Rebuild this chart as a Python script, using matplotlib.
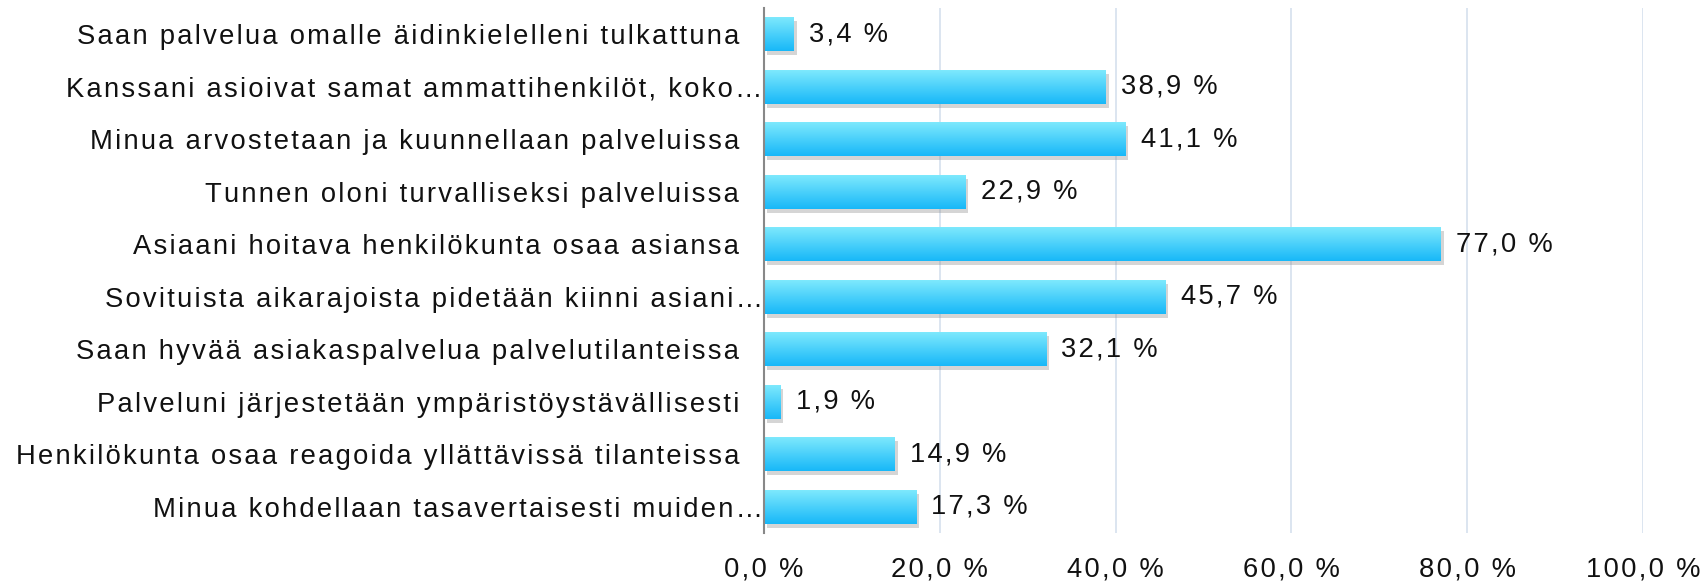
import matplotlib
matplotlib.use("Agg")
import matplotlib.pyplot as plt
import matplotlib.patheffects as pe
import numpy as np

# survey answers, top to bottom
labels = [
    "Saan palvelua omalle äidinkielelleni tulkattuna",
    "Kanssani asioivat samat ammattihenkilöt, koko…",
    "Minua arvostetaan ja kuunnellaan palveluissa",
    "Tunnen oloni turvalliseksi palveluissa",
    "Asiaani hoitava henkilökunta osaa asiansa",
    "Sovituista aikarajoista pidetään kiinni asiani…",
    "Saan hyvää asiakaspalvelua palvelutilanteissa",
    "Palveluni järjestetään ympäristöystävällisesti",
    "Henkilökunta osaa reagoida yllättävissä tilanteissa",
    "Minua kohdellaan tasavertaisesti muiden…",
]
values = [3.4, 38.9, 41.1, 22.9, 77.0, 45.7, 32.1, 1.9, 14.9, 17.3]
xticks = [0, 20, 40, 60, 80, 100]

plt.rcParams['font.family'] = ['Liberation Sans', 'DejaVu Sans']
fs = 19.7


def spaced(s):
    # the original uses wide letter spacing
    return '\u200a'.join(s)


fig = plt.figure(figsize=(17.04, 5.81), dpi=100)
ax = fig.add_axes([764 / 1704, 48 / 581, 879 / 1704, 525 / 581])

y = np.arange(len(labels))
bars = ax.barh(y, values, height=0.65, color='#1bbaf8', zorder=2,
               path_effects=[pe.withSimplePatchShadow(offset=(2, -3), shadow_rgbFace='#888888', alpha=0.35)])

# vertical gradient inside each bar
grad = np.linspace(0, 1, 64).reshape(-1, 1)
cmap = matplotlib.colors.LinearSegmentedColormap.from_list('g', ['#80eafd', '#18b8f8'])
for b in bars:
    x0, y0, w, h = b.get_x(), b.get_y(), b.get_width(), b.get_height()
    im = ax.imshow(grad, cmap=cmap, aspect='auto', extent=(x0, x0 + w, y0 + h, y0),
                   origin='upper', zorder=3)
    im.set_clip_path(b)

for yi, v in zip(y, values):
    ax.annotate(spaced(f"{v:.1f} %".replace('.', ',')), (v, yi), xytext=(11, 0),
                textcoords='offset points', va='center', ha='left', fontsize=fs,
                color='#111111', zorder=4)

ax.set_xlim(0, 100)
ax.set_ylim(len(labels) - 0.5, -0.5)
ax.set_xticks(xticks)
ax.set_xticklabels([spaced(f"{t},0 %") for t in xticks], fontsize=fs, color='#111111')
ax.set_yticks(y)
ax.set_yticklabels([spaced(l) for l in labels], fontsize=fs, color='#111111')
ax.tick_params(axis='both', length=0)
ax.tick_params(axis='x', pad=17)
ax.tick_params(axis='y', pad=18)
for i, lab in enumerate(labels):
    if lab.endswith('…'):
        ax.yaxis.get_major_ticks()[i].set_pad(1)

ax.grid(axis='x', color='#d6e0ee', linewidth=1.2, zorder=0)
ax.set_axisbelow(True)
for s in ['top', 'right', 'bottom']:
    ax.spines[s].set_visible(False)
ax.spines['left'].set_color('#888888')
ax.spines['left'].set_linewidth(1.5)
ax.spines['left'].set_zorder(5)

fig.savefig("out.png", dpi=100)
